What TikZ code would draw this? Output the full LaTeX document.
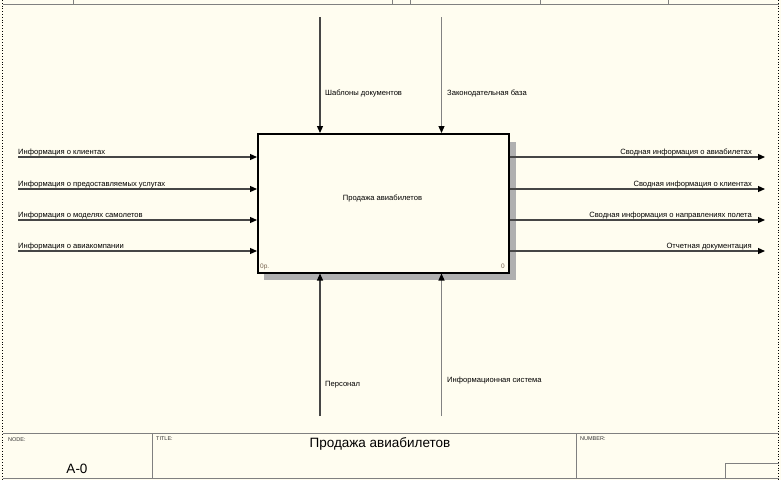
\documentclass[tikz,border=0pt]{standalone}
\usepackage{fontspec}
\setmainfont{Liberation Sans}
\usetikzlibrary{arrows.meta}
\definecolor{bg}{RGB}{255,253,240}
\definecolor{ln}{RGB}{70,70,70}
\definecolor{lnl}{RGB}{130,130,130}
\definecolor{frm}{RGB}{128,128,128}
\definecolor{num}{RGB}{120,100,80}
\begin{document}
\begin{tikzpicture}[x=1pt,y=-1pt,
  flow/.style={draw=ln, line width=1.2pt, -{Triangle[length=7pt,width=6pt,color=black]}},
  flowl/.style={flow, draw=lnl},
  lbl/.style={font=\fontsize{7.6}{9}\selectfont, inner sep=0pt, text=black},
  tiny/.style={font=\fontsize{5.5}{6}\selectfont, inner sep=0pt, text=black!80},
  big/.style={font=\fontsize{13.5}{15}\selectfont, inner sep=0pt},
  frame/.style={draw=frm, line width=1pt},
  border/.style={draw=black, line width=0.8pt, dotted}]
\useasboundingbox (0,0) rectangle (781,480);
\fill[bg] (0,0) rectangle (781,480);
% outer borders
\draw[border] (2.5,0) -- (2.5,480);
\draw[border] (778.5,0) -- (778.5,480);
% top cells
\draw[frame] (2.5,4) -- (778.5,4);
\foreach \x in {73,392,410,540,668} \draw[frame] (\x,0) -- (\x,4);
% title block
\draw[frame] (2.5,433) -- (778.5,433);
\draw[frame] (2.5,478) -- (778.5,478);
\draw[frame] (152,433) -- (152,478);
\draw[frame] (576,433) -- (576,478);
\draw[frame] (725,478) -- (725,463) -- (778.5,463);
\node[tiny, anchor=north west] (nodelbl) at (8,437) {NODE:};
\node[big, anchor=center] (nodeval) at (77,468.5) {A-0};
\node[tiny, anchor=north west] (titlelbl) at (156,437) {TITLE:};
\node[big, anchor=center] (titleval) at (380,444) {Продажа авиабилетов};
\node[tiny, anchor=north west] (numlbl) at (580,437) {NUMBER:};
% shadow and box
\fill[gray!62] (264,142) rectangle (515.5,279.5);
\node[draw=black, line width=1.5pt, fill=bg, anchor=north west,
      minimum width=251pt, minimum height=139pt, inner sep=0pt] (box) at (257,133) {};
\node[lbl] (boxlbl) at (382.5,198) {Продажа авиабилетов};
\node[font=\fontsize{6.5}{7}\selectfont, inner sep=0pt, text=num, anchor=base west] (boxnum) at (260,268) {0р.};
\node[font=\fontsize{6.5}{7}\selectfont, inner sep=0pt, text=num, anchor=base east] (boxid) at (505,268) {0};
% controls
\coordinate (c1) at (320,17);
\coordinate (c2) at (441.5,17);
\draw[flow] (c1) -- (c1 |- box.north);
\draw[flowl] (c2) -- (c2 |- box.north);
\node[lbl, anchor=base west] (c1l) at (325,95) {Шаблоны документов};
\node[lbl, anchor=base west] (c2l) at (447,95) {Законодательная база};
% mechanisms
\coordinate (m1) at (320,416);
\coordinate (m2) at (441.5,416);
\draw[flow] (m1) -- (m1 |- box.south);
\draw[flowl] (m2) -- (m2 |- box.south);
\node[lbl, anchor=base west] (m1l) at (325,386) {Персонал};
\node[lbl, anchor=base west] (m2l) at (447,382) {Информационная система};
% inputs
\foreach \y/\t [count=\i] in {157/Информация о клиентах,
    189/Информация о предоставляемых услугах,
    220/Информация о моделях самолетов,
    251/Информация о авиакомпании}{
  \coordinate (in\i) at (18,\y);
  \draw[flow] (in\i) -- (in\i -| box.west);
  \node[lbl, anchor=base west] (in\i l) at (18,\y-2.5) {\t};
}
% outputs
\foreach \y/\t [count=\i] in {157/Сводная информация о авиабилетах,
    189/Сводная информация о клиентах,
    220/Сводная информация о направлениях полета,
    251/Отчетная документация}{
  \coordinate (out\i) at (765,\y);
  \draw[flow] (box.east |- out\i) -- (out\i);
  \node[lbl, anchor=base east] (out\i l) at (752,\y-2.5) {\t};
}
\end{tikzpicture}
\end{document}
